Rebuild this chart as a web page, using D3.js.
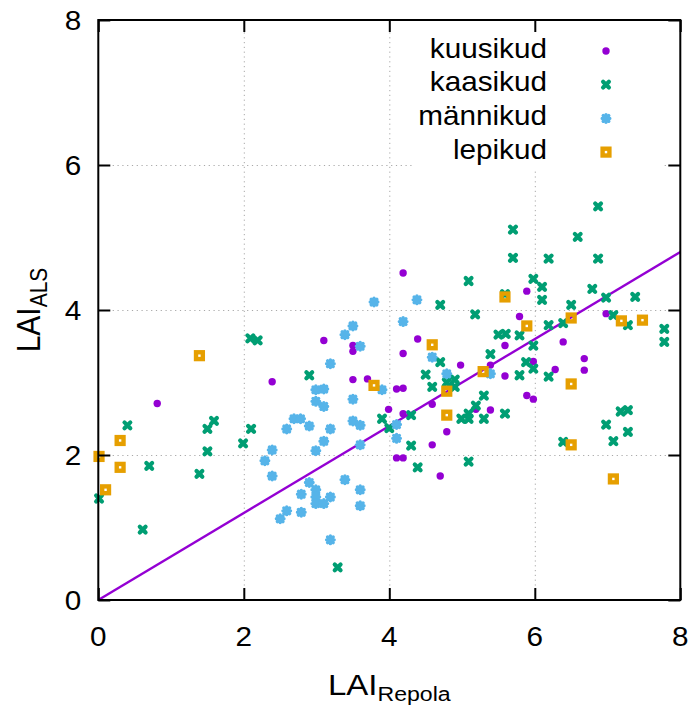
<!DOCTYPE html>
<html>
<head>
<meta charset="utf-8">
<script src="https://cdn.jsdelivr.net/npm/d3@7"></script>
<style>
  body { margin: 0; background: #fff; }
  text { font-family: "Liberation Sans", Arial, sans-serif; fill: #000; }
</style>
</head>
<body>
<div id="chart"></div>
<script>
// data, [LAI_Repola, LAI_ALS]
var kuusikud = [
  [0.81,2.71],[2.39,3.01],[3.10,3.58],[3.50,3.51],[3.50,3.43],[3.50,3.04],[3.70,3.05],
  [4.19,3.40],[4.39,3.60],[4.19,4.51],[4.10,2.91],[4.19,2.92],[3.99,2.63],[4.19,2.57],
  [4.10,1.96],[4.19,1.96],[5.89,4.26],[5.79,3.91],[5.59,3.51],[5.39,3.24],[4.98,3.24],
  [5.98,3.29],[5.59,3.09],[5.89,2.82],[5.98,2.77],[4.59,2.70],[5.19,2.63],[5.39,2.62],
  [4.79,2.32],[4.59,2.14],[4.70,1.71],[6.98,3.95],[6.39,3.56],[6.28,3.18],[6.68,3.33],
  [6.68,3.17]
];
var kaasikud = [
  [2.09,3.61],[2.19,3.58],[0.40,2.41],[1.59,2.47],[1.50,2.36],[2.10,2.36],[1.99,2.16],
  [1.50,2.05],[0.70,1.85],[1.39,1.74],[0.61,0.97],[0.01,1.40],[2.90,3.10],[4.30,2.55],
  [3.90,2.50],[4.00,2.37],[4.30,2.13],[4.39,1.83],[3.29,0.45],[5.70,5.11],[5.70,4.72],
  [5.09,4.40],[4.70,4.07],[5.59,4.22],[5.98,4.43],[5.18,3.94],[4.70,3.28],[5.50,3.66],
  [5.60,3.67],[5.79,3.65],[5.98,3.51],[5.39,3.39],[5.88,3.28],[5.98,3.19],[5.79,3.10],
  [4.50,3.11],[4.59,2.94],[4.79,3.00],[4.90,3.04],[4.90,2.94],[5.30,2.82],[5.19,2.68],
  [5.09,2.57],[4.99,2.50],[5.09,2.50],[5.30,2.50],[5.59,2.57],[5.09,1.91],[6.87,5.43],
  [6.59,5.01],[6.19,4.71],[6.87,4.71],[6.10,4.32],[6.10,4.14],[6.79,4.29],[6.98,4.17],
  [7.38,4.18],[6.50,4.07],[7.08,3.93],[7.28,3.79],[7.78,3.74],[7.78,3.56],[6.19,3.79],
  [6.39,3.82],[6.19,3.08],[7.18,2.60],[7.28,2.62],[6.98,2.42],[7.28,2.32],[7.08,2.19],
  [6.39,2.18]
];
var mannikud = [
  [3.79,4.11],[4.38,4.14],[4.19,3.84],[3.50,3.78],[3.39,3.66],[3.60,3.50],[3.19,3.26],
  [3.90,2.90],[2.99,2.90],[3.10,2.91],[2.99,2.74],[3.10,2.67],[3.50,2.77],[4.10,2.42],
  [4.10,2.23],[2.69,2.50],[2.78,2.50],[2.59,2.36],[2.90,2.40],[3.19,2.36],[3.50,2.47],
  [3.60,2.41],[3.10,2.19],[2.99,2.06],[3.60,2.14],[2.39,2.07],[2.29,1.92],[2.39,1.71],
  [2.90,1.62],[3.39,1.66],[3.60,1.52],[2.79,1.46],[2.99,1.52],[2.99,1.42],[2.99,1.33],
  [3.10,1.33],[3.19,1.42],[3.60,1.30],[2.59,1.23],[2.50,1.12],[2.79,1.21],[3.19,0.83],
  [4.59,3.35],[5.39,3.12],[4.79,3.12]
];
var lepikud = [
  [1.39,3.37],[0.30,2.20],[0.01,1.98],[0.30,1.83],[0.10,1.52],[3.79,2.96],[5.59,4.18],
  [4.59,3.52],[5.89,3.78],[5.29,3.15],[4.79,2.88],[4.79,2.55],[6.50,3.89],[7.19,3.85],
  [7.48,3.86],[6.50,2.98],[6.50,2.14],[7.08,1.67]
];
var seriesNames = ["kuusikud", "kaasikud", "männikud", "lepikud"];
var fitLine = [[0, 0], [8, 4.8]];
var xTicks = [0, 2, 4, 6, 8];
var yTicks = [0, 2, 4, 6, 8];

var seriesData = [kuusikud, kaasikud, mannikud, lepikud];
var colors = ["#9400d3", "#009e73", "#56b4e9", "#e69f00"];

var margin = {top: 20, right: 16.7, bottom: 110, left: 98.3},
    width = 697 - margin.left - margin.right,
    height = 710 - margin.top - margin.bottom;

var svg = d3.select("#chart")
  .append("svg")
    .attr("width", 697)
    .attr("height", 710);

var g = svg.append("g")
    .attr("transform", "translate(" + margin.left + "," + margin.top + ")");

var x = d3.scaleLinear().domain([0, 8]).range([0, width]);
var y = d3.scaleLinear().domain([0, 8]).range([height, 0]);

var stretch = 1.1;

// text with a slight horizontal stretch, like the original render
function label(parent, px, py, txt, anchor, size) {
  return parent.append("text")
    .attr("transform", "translate(" + px + "," + py + ") scale(" + stretch + ",1)")
    .attr("text-anchor", anchor)
    .style("font-size", size + "px")
    .text(txt);
}

//grid lines
var gridX = g.append("g")
    .attr("transform", "translate(0," + height + ")")
    .call(d3.axisBottom(x).tickValues([2, 4, 6]).tickSize(-height).tickFormat(""));
var gridY = g.append("g")
    .call(d3.axisLeft(y).tickValues([2, 4, 6]).tickSize(-width).tickFormat(""));
[gridX, gridY].forEach(function(a) {
  a.select(".domain").remove();
  a.selectAll("line")
    .attr("stroke", "#a8a8a8")
    .attr("stroke-width", 1)
    .attr("stroke-dasharray", "1.2,3.6");
});

// key background hides the grid
g.append("rect")
  .attr("x", 415 - margin.left).attr("y", 1)
  .attr("width", 248).attr("height", 147)
  .attr("fill", "#fff");

// fitted line
g.append("path")
  .datum(fitLine)
  .attr("d", d3.line().x(function(d) { return x(d[0]); }).y(function(d) { return y(d[1]); }))
  .attr("fill", "none")
  .attr("stroke", colors[0])
  .attr("stroke-width", 2.4);

// markers
function drawMarker(sel, i) {
  var c = colors[i];
  if (i == 0) {
    sel.append("circle").attr("r", 3.7).attr("fill", c);
  } else if (i == 1) {
    sel.append("path")
      .attr("d", "M-2.9,-2.9L2.9,2.9M-2.9,2.9L2.9,-2.9")
      .attr("stroke", c).attr("stroke-width", 4.2).attr("stroke-linecap", "round");
  } else if (i == 2) {
    sel.append("path")
      .attr("d", "M-3.8,0L3.8,0M0,-3.8L0,3.8M-2.8,-2.8L2.8,2.8M-2.8,2.8L2.8,-2.8")
      .attr("stroke", c).attr("stroke-width", 3.4).attr("stroke-linecap", "round");
  } else {
    sel.append("rect")
      .attr("x", -3.4).attr("y", -3.4).attr("width", 6.8).attr("height", 6.8)
      .attr("fill", "none").attr("stroke", c).attr("stroke-width", 4.4);
  }
}

seriesData.forEach(function(data, i) {
  g.append("g")
    .selectAll("g")
    .data(data)
    .enter()
    .append("g")
      .attr("transform", function(d) { return "translate(" + x(d[0]) + "," + y(d[1]) + ")"; })
      .each(function() { drawMarker(d3.select(this), i); });
});

// inward ticks on all four sides
var axes = [
  g.append("g").attr("transform", "translate(0," + height + ")")
    .call(d3.axisBottom(x).tickValues(xTicks).tickSize(-12).tickFormat("")),
  g.append("g")
    .call(d3.axisTop(x).tickValues(xTicks).tickSize(-12).tickFormat("")),
  g.append("g")
    .call(d3.axisLeft(y).tickValues(yTicks).tickSize(-12).tickFormat("")),
  g.append("g").attr("transform", "translate(" + width + ",0)")
    .call(d3.axisRight(y).tickValues(yTicks).tickSize(-12).tickFormat(""))
];
axes.forEach(function(a) {
  a.select(".domain").remove();
  a.selectAll("line").attr("stroke", "#000").attr("stroke-width", 2);
});

g.append("rect")
  .attr("width", width).attr("height", height)
  .attr("fill", "none").attr("stroke", "#000").attr("stroke-width", 2);

// tick labels
xTicks.forEach(function(t) {
  label(g, x(t), height + 46, t, "middle", 27);
});
yTicks.forEach(function(t) {
  label(g, -17, y(t) + 10, t, "end", 27);
});

// axis titles
var xt = label(svg, margin.left + width / 2, 695, "", "middle", 30);
xt.append("tspan").text("LAI");
xt.append("tspan").attr("dy", 6).style("font-size", "21px").text("Repola");

var yt = svg.append("text")
  .attr("transform", "translate(40," + (margin.top + height / 2) + ") rotate(-90) scale(1," + stretch + ")")
  .attr("text-anchor", "middle")
  .style("font-size", "30px");
yt.append("tspan").text("LAI");
yt.append("tspan").attr("dy", 6).style("font-size", "21px").text("ALS");

// key
seriesNames.forEach(function(name, i) {
  var by = 57.5 + i * 33.7;
  label(svg, 547, by, name, "end", 27);
  var m = svg.append("g").attr("transform", "translate(606," + (by - 6.5) + ")");
  drawMarker(m, i);
});
</script>
</body>
</html>
